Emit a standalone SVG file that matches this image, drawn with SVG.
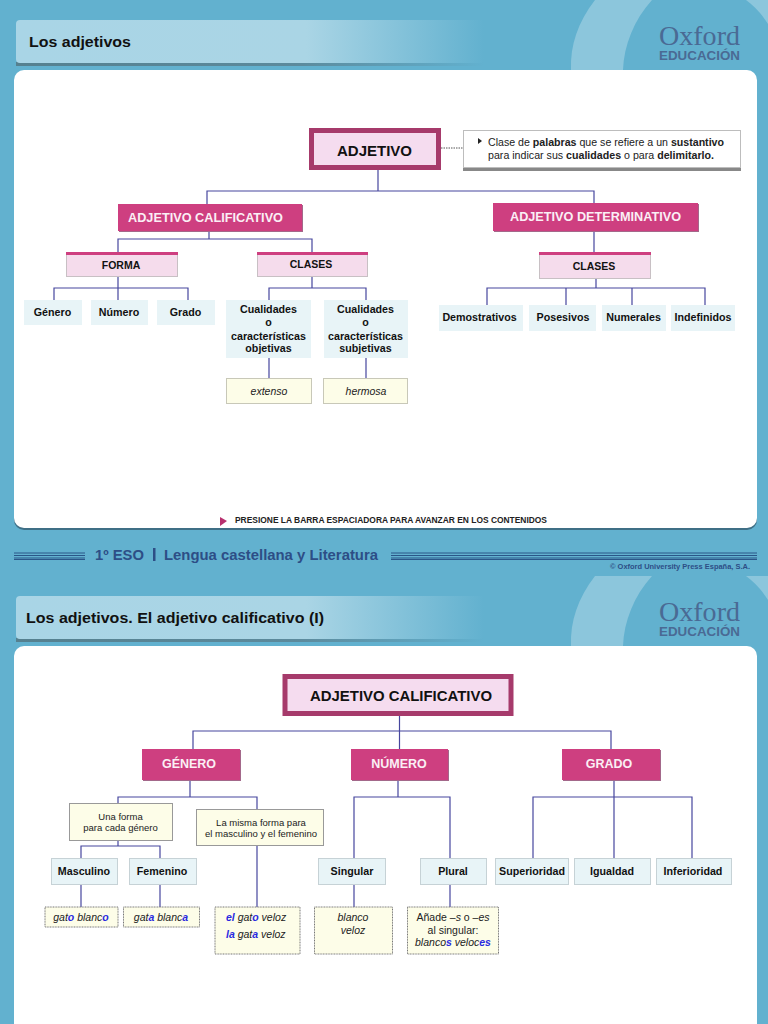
<svg xmlns="http://www.w3.org/2000/svg" width="768" height="1024" viewBox="0 0 768 1024">
<style>
text{font-family:"Liberation Sans",Arial,sans-serif;fill:#111}
.m{text-anchor:middle}
.b{font-weight:bold}
.main{fill:#F5DCEF;stroke:#A63A6B;stroke-width:5}
.mt{font-size:14.5px;font-weight:bold}
.pink{fill:#CE3F80}
.ps{fill:#A3688A}
.wt{fill:#FBEFF5;font-size:12.5px;font-weight:bold}
.sub{fill:#F5DCEC;stroke:#C8C0C4;stroke-width:1}
.bar{fill:#CE3F80}
.st{font-size:10.500px;font-weight:bold}
.lb{fill:#E8F4F7}
.lbs{fill:#E8F4F7;stroke:#C6D2D6;stroke-width:1}
.lt{font-size:10.700px;font-weight:bold;fill:#111}
.yl{fill:#FDFDE8;stroke:#C8C8B8;stroke-width:1}
.ys{fill:#FDFDE8;stroke:#999;stroke-width:1}
.yd{fill:#FDFDE8;stroke:#777;stroke-width:1;stroke-dasharray:1 .6}
.it{font-size:10.500px;font-style:italic;fill:#222}
.bl{fill:#2A2AE0;font-weight:bold}
.sm{font-size:9.500px;fill:#222}
.c{fill:none;stroke:#46469E;stroke-width:1.2}
.band{stroke:#2A5688;stroke-width:1;fill:none}
.logo{fill:#4A6A94}
</style>
<defs>
<linearGradient id="tb" x1="0" x2="1" y1="0" y2="0">
<stop offset="0" stop-color="#A9D5E6"/><stop offset=".62" stop-color="#AAD5E5"/><stop offset="1" stop-color="#62B1CF"/>
</linearGradient>
<linearGradient id="ts" x1="0" x2="1" y1="0" y2="0">
<stop offset="0" stop-color="#55808F"/><stop offset=".6" stop-color="#5C8A9C"/><stop offset="1" stop-color="#62B1CF"/>
</linearGradient>
<g id="hdr">
<path d="M595,0C578,22 570,45 571,70L623,70C624,45 634,20 652,0Z" fill="#8CC6DC"/>
<path d="M746,0L768,0L768,24C762,14 754,6 746,0Z" fill="#8CC6DC"/>
<rect x="16" y="62" width="468" height="4" fill="url(#ts)"/>
<rect x="16" y="20" width="468" height="43" rx="4" fill="url(#tb)"/>
<text class="logo" x="659" y="45" font-size="26.500" style="font-family:'Liberation Serif',serif" textLength="81" lengthAdjust="spacingAndGlyphs">Oxford</text>
<text class="logo" x="659" y="60" font-size="13.500" font-weight="bold" textLength="81" lengthAdjust="spacingAndGlyphs">EDUCACIÓN</text>
</g>
</defs>
<rect width="768" height="1024" fill="#62B1CF"/>
<use href="#hdr"/>
<g transform="translate(0,576)"><use href="#hdr"/></g>
<text x="29" y="47" font-size="15.500" class="b" textLength="102" lengthAdjust="spacingAndGlyphs">Los adjetivos</text>
<text x="26" y="623" font-size="15.500" class="b" textLength="298" lengthAdjust="spacingAndGlyphs">Los adjetivos. El adjetivo calificativo (I)</text>
<rect x="14" y="72" width="743" height="458" rx="10" fill="#3F6F86"/>
<rect x="14" y="70" width="743" height="458" rx="10" fill="#fff"/>
<rect x="14" y="646" width="743" height="390" rx="10" fill="#fff"/>

<g id="band">
<path class="band" d="M14,553H85M14,555.500H85M14,558H85M14,559.500H85M391,553H757M391,555.500H757M391,558H757M391,559.500H757"/>
<text x="95" y="560" font-size="14" class="b" style="fill:#2D4E86" textLength="49" lengthAdjust="spacingAndGlyphs">1º ESO</text>
<rect x="153" y="548" width="2.500" height="13" fill="#2D4E86"/>
<text x="164" y="560" font-size="14" class="b" style="fill:#2D4E86" textLength="214" lengthAdjust="spacingAndGlyphs">Lengua castellana y Literatura</text>
<text x="610" y="569" font-size="7.500" class="b" style="fill:#2D4E86" textLength="140" lengthAdjust="spacingAndGlyphs">© Oxford University Press España, S.A.</text>
</g>

<g id="connectors">
<path d="M441,148H463" fill="none" stroke="#555" stroke-width="1" stroke-dasharray="1.5 1"/>
<path class="c" d="M378,170V191M207,204V191H594V203M209,231V239M118,252V239H312V252M594,231V252M118,277V288M54,300V288H188V300M118,288V300M312,277V288M269,300V288H366V300M269,358V378M366,358V378M596,279V288M487,305V288H705V305M566,288V305M632,288V305"/>
<path class="c" d="M399.500,715V749M193,749V731H611V749M190,780V797M118,803V797H257V809M118,841V846M81,858V846H160V858M81,885V907M160,885V907M257,846V907M398,780V797M354,858V797H450V858M354,885V907M450,885V907M614,780V858M533,858V797H692V858"/>
</g>

<g id="adjetivo"><rect class="main" x="311.500" y="130.500" width="127" height="37"/><text class="mt" x="337" y="156" textLength="75" lengthAdjust="spacingAndGlyphs">ADJETIVO</text></g>
<g id="nota">
<rect x="463" y="133" width="278" height="38" fill="#888"/>
<rect x="463.500" y="130.500" width="277" height="37" fill="#fff" stroke="#BDBDBD"/>
<path d="M478,138L482,141L478,144Z" fill="#222"/>
<text x="488" y="146" font-size="10" textLength="236" lengthAdjust="spacingAndGlyphs" style="fill:#222">Clase de <tspan class="b">palabras</tspan> que se refiere a un <tspan class="b">sustantivo</tspan></text>
<text x="488" y="159" font-size="10" textLength="226" lengthAdjust="spacingAndGlyphs" style="fill:#222">para indicar sus <tspan class="b">cualidades</tspan> o para <tspan class="b">delimitarlo.</tspan></text>
</g>
<g id="calificativo"><rect class="ps" x="119" y="205" width="184" height="27"/><rect class="pink" x="118" y="204" width="184" height="27"/><text class="wt" x="128" y="222" textLength="155" lengthAdjust="spacingAndGlyphs">ADJETIVO CALIFICATIVO</text></g>
<g id="determinativo"><rect class="ps" x="494" y="204" width="205" height="28"/><rect class="pink" x="493" y="203" width="205" height="28"/><text class="wt" x="510" y="221" textLength="171" lengthAdjust="spacingAndGlyphs">ADJETIVO DETERMINATIVO</text></g>
<g id="forma"><rect class="sub" x="66.500" y="252.500" width="111" height="24"/><rect class="bar" x="66" y="252" width="112" height="3"/><text class="st m" x="121" y="269">FORMA</text></g>
<g id="clases1"><rect class="sub" x="257.500" y="252.500" width="110" height="24"/><rect class="bar" x="257" y="252" width="111" height="3"/><text class="st m" x="311" y="268">CLASES</text></g>
<g id="clases2"><rect class="sub" x="539.500" y="252.500" width="111" height="26"/><rect class="bar" x="539" y="252" width="112" height="3"/><text class="st m" x="594" y="270">CLASES</text></g>
<g id="n-genero"><rect class="lb" x="24" y="300" width="58" height="25"/><text class="lt m" x="52.500" y="316">Género</text></g>
<g id="n-numero"><rect class="lb" x="91" y="300" width="57" height="25"/><text class="lt m" x="119" y="316">Número</text></g>
<g id="n-grado"><rect class="lb" x="157" y="300" width="58" height="25"/><text class="lt m" x="185.500" y="316">Grado</text></g>
<g id="objetivas"><rect class="lb" x="226" y="300" width="85" height="58"/><text class="lt m" x="268.500"><tspan x="268.500" y="313">Cualidades</tspan><tspan x="268.500" y="326">o</tspan><tspan x="268.500" y="340">características</tspan><tspan x="268.500" y="352">objetivas</tspan></text></g>
<g id="subjetivas"><rect class="lb" x="324" y="300" width="84" height="58"/><text class="lt m" x="365.500"><tspan x="365.500" y="313">Cualidades</tspan><tspan x="365.500" y="326">o</tspan><tspan x="365.500" y="340">características</tspan><tspan x="365.500" y="352">subjetivas</tspan></text></g>
<g id="extenso"><rect class="yl" x="226.500" y="378.500" width="85" height="25"/><text class="it m" x="269" y="395">extenso</text></g>
<g id="hermosa"><rect class="yl" x="323.500" y="378.500" width="84" height="25"/><text class="it m" x="366" y="395">hermosa</text></g>
<g id="demostrativos"><rect class="lb" x="439" y="305" width="84" height="26"/><text class="lt m" x="479.500" y="321">Demostrativos</text></g>
<g id="posesivos"><rect class="lb" x="529" y="305" width="67" height="26"/><text class="lt m" x="563" y="321">Posesivos</text></g>
<g id="numerales"><rect class="lb" x="602" y="305" width="64" height="26"/><text class="lt m" x="633.500" y="321">Numerales</text></g>
<g id="indefinidos"><rect class="lb" x="671" y="305" width="64" height="26"/><text class="lt m" x="703" y="321">Indefinidos</text></g>
<g id="aviso"><path d="M220,517L227,521L220,526Z" fill="#B8306E"/><text x="235" y="523" font-size="8.500" class="b" textLength="312" lengthAdjust="spacingAndGlyphs" style="fill:#222">PRESIONE LA BARRA ESPACIADORA PARA AVANZAR EN LOS CONTENIDOS</text></g>

<g id="adj-calif"><rect class="main" x="285" y="676.500" width="226" height="37"/><text class="mt" x="310" y="701" textLength="182" lengthAdjust="spacingAndGlyphs">ADJETIVO CALIFICATIVO</text></g>
<g id="genero"><rect class="ps" x="143" y="750" width="98" height="31"/><rect class="pink" x="142" y="749" width="98" height="31"/><text class="wt m" x="189" y="768">GÉNERO</text></g>
<g id="numero"><rect class="ps" x="352" y="750" width="97" height="31"/><rect class="pink" x="351" y="749" width="97" height="31"/><text class="wt m" x="399" y="768">NÚMERO</text></g>
<g id="grado"><rect class="ps" x="563" y="750" width="98" height="31"/><rect class="pink" x="562" y="749" width="98" height="31"/><text class="wt m" x="609" y="768">GRADO</text></g>
<g id="una-forma"><rect class="ys" x="69.500" y="803.500" width="103" height="37"/><text class="sm m" x="120.500"><tspan x="120.500" y="820">Una forma</tspan><tspan x="120.500" y="831">para cada género</tspan></text></g>
<g id="misma-forma"><rect class="ys" x="196.500" y="809.500" width="127" height="36"/><text class="sm m" x="261"><tspan x="261" y="826">La misma forma para</tspan><tspan x="261" y="837">el masculino y el femenino</tspan></text></g>
<g id="masculino"><rect class="lbs" x="51.500" y="858.500" width="66" height="26"/><text class="lt m" x="84" y="875">Masculino</text></g>
<g id="femenino"><rect class="lbs" x="129.500" y="858.500" width="67" height="26"/><text class="lt m" x="162" y="875">Femenino</text></g>
<g id="gato"><rect class="yd" x="45" y="907" width="73" height="20"/><text class="it m" x="81" y="921">gat<tspan class="bl">o</tspan> blanc<tspan class="bl">o</tspan></text></g>
<g id="gata"><rect class="yd" x="123.500" y="907" width="76" height="20"/><text class="it m" x="161" y="921">gat<tspan class="bl">a</tspan> blanc<tspan class="bl">a</tspan></text></g>
<g id="el-gato"><rect class="yd" x="215" y="907" width="85" height="47"/><text class="it" x="226" y="921"><tspan class="bl">el</tspan> gat<tspan class="bl">o</tspan> veloz</text><text class="it" x="226" y="938"><tspan class="bl">la</tspan> gat<tspan class="bl">a</tspan> veloz</text></g>
<g id="singular"><rect class="lbs" x="318.500" y="858.500" width="67" height="26"/><text class="lt m" x="352" y="875">Singular</text></g>
<g id="plural"><rect class="lbs" x="420.500" y="858.500" width="66" height="26"/><text class="lt m" x="453" y="875">Plural</text></g>
<g id="blanco"><rect class="yd" x="314.500" y="907" width="78" height="47"/><text class="it m" x="353"><tspan x="353" y="921">blanco</tspan><tspan x="353" y="934">veloz</tspan></text></g>
<g id="anade"><rect class="yd" x="407.500" y="907" width="91" height="47"/><text class="it m" x="453" y="921"><tspan font-style="normal">Añade –</tspan>s<tspan font-style="normal"> o –</tspan>es</text><text class="m" x="453" y="934" font-size="10.500" style="fill:#222">al singular:</text><text class="it m" x="453" y="946">blanco<tspan class="bl">s</tspan> veloc<tspan class="bl">es</tspan></text></g>
<g id="superioridad"><rect class="lbs" x="495.500" y="858.500" width="73" height="26"/><text class="lt m" x="532" y="875">Superioridad</text></g>
<g id="igualdad"><rect class="lbs" x="574.500" y="858.500" width="76" height="26"/><text class="lt m" x="612" y="875">Igualdad</text></g>
<g id="inferioridad"><rect class="lbs" x="656.500" y="858.500" width="75" height="26"/><text class="lt m" x="693" y="875">Inferioridad</text></g>
</svg>
